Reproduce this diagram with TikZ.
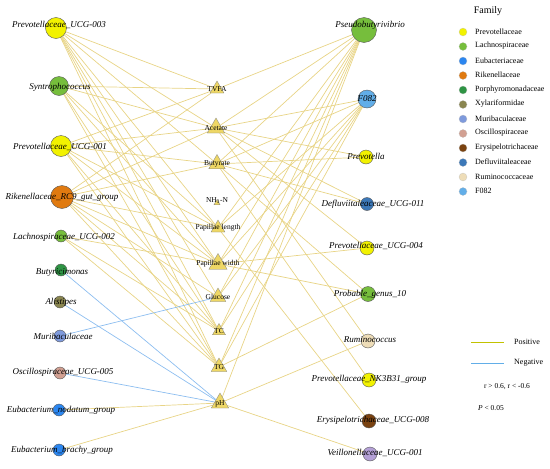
\documentclass[tikz,border=0pt]{standalone}
\usepackage{fontspec}
\setmainfont{Liberation Serif}
\usetikzlibrary{shapes.geometric}
\pgfdeclarelayer{bg}\pgfsetlayers{bg,main}
\definecolor{pos}{HTML}{E8D486}
\definecolor{neg}{HTML}{8DBEF0}
\definecolor{trifill}{HTML}{EED765}
\definecolor{cPrev}{HTML}{F2F200}
\definecolor{cLach}{HTML}{76BE3C}
\definecolor{cEub}{HTML}{2B86F0}
\definecolor{cRik}{HTML}{E07A10}
\definecolor{cPorph}{HTML}{2E9444}
\definecolor{cXyl}{HTML}{8A8650}
\definecolor{cMuri}{HTML}{7E9ADC}
\definecolor{cOsc}{HTML}{D2A092}
\definecolor{cEry}{HTML}{7A4210}
\definecolor{cDef}{HTML}{3C78B8}
\definecolor{cRum}{HTML}{EEDDB8}
\definecolor{cF}{HTML}{62AEE8}
\definecolor{cVei}{HTML}{B4A0D6}
\begin{document}
\begin{tikzpicture}[x=1pt,y=-1pt,
  circ/.style={circle,draw=black!65,line width=0.4pt,inner sep=0pt},
  tri/.style={regular polygon,regular polygon sides=3,draw=black!50,fill=trifill,inner sep=0pt,line width=0.3pt},
  lab/.style={font=\fontsize{9}{10}\selectfont\itshape,inner sep=0pt},
  tlab/.style={font=\fontsize{7.5}{8}\selectfont,inner sep=0pt},
  leg/.style={font=\fontsize{8}{9}\selectfont,inner sep=0pt,anchor=west},
  pe/.style={draw=pos,line width=0.7pt},
  ne/.style={draw=neg,line width=0.7pt}]
\useasboundingbox (0,0) rectangle (550,469);
% left nodes
\node[circ,fill=cPrev,minimum size=21pt] (L1) at (56,28) {};
\node[circ,fill=cLach,minimum size=19pt] (L2) at (59,86) {};
\node[circ,fill=cPrev,minimum size=21pt] (L3) at (61,146) {};
\node[circ,fill=cRik,minimum size=23pt] (L4) at (62,197) {};
\node[circ,fill=cLach,minimum size=12pt] (L5) at (61,236) {};
\node[circ,fill=cPorph,minimum size=12pt] (L6) at (61,270) {};
\node[circ,fill=cXyl,minimum size=12pt] (L7) at (60,302) {};
\node[circ,fill=cMuri,minimum size=12pt] (L8) at (60,336) {};
\node[circ,fill=cOsc,minimum size=12pt] (L9) at (60,373) {};
\node[circ,fill=cEub,minimum size=12pt] (L10) at (59,410) {};
\node[circ,fill=cEub,minimum size=12pt] (L11) at (59,450) {};
\node[lab] (l1) at (59,25) {Prevotellaceae\_UCG-003};
\node[lab] (l2) at (60,87) {Syntrophococcus};
\node[lab] (l3) at (60,147) {Prevotellaceae\_UCG-001};
\node[lab] (l4) at (62,197) {Rikenellaceae\_RC9\_gut\_group};
\node[lab] (l5) at (64,237) {Lachnospiraceae\_UCG-002};
\node[lab] (l6) at (62,272) {Butyricimonas};
\node[lab] (l7) at (61,302) {Alistipes};
\node[lab] (l8) at (63,336) {Muribaculaceae};
\node[lab] (l9) at (63,372) {Oscillospiraceae\_UCG-005};
\node[lab] (l10) at (61,410) {Eubacterium\_nodatum\_group};
\node[lab] (l11) at (62,450) {Eubacterium\_brachy\_group};
% middle triangles
\node[tri,minimum size=16pt] (M1) at (217,89) {};
\node[tri,minimum size=20pt] (M2) at (216,128) {};
\node[tri,minimum size=19pt] (M3) at (217,164) {};
\node[tri,minimum size=7pt] (M4) at (217,203) {};
\node[tri,minimum size=16pt] (M5) at (218,228) {};
\node[tri,minimum size=21pt] (M6) at (218,264) {};
\node[tri,minimum size=18pt] (M7) at (218,297) {};
\node[tri,minimum size=15pt] (M8) at (219,331) {};
\node[tri,minimum size=18pt] (M9) at (219,367) {};
\node[tri,minimum size=20pt] (M10) at (220,403) {};
\node[tlab] (m1) at (217,89) {TVFA};
\node[tlab] (m2) at (216,128) {Acetate};
\node[tlab] (m3) at (217,164) {Butyrate};
\node[tlab] (m4) at (217,201) {NH\textsubscript{3}-N};
\node[tlab] (m5) at (218,228) {Papillae length};
\node[tlab] (m6) at (218,264) {Papillae width};
\node[tlab] (m7) at (218,297) {Glucose};
\node[tlab] (m8) at (219,331) {TC};
\node[tlab] (m9) at (219,367) {TG};
\node[tlab] (m10) at (220,404) {pH};
% right nodes
\node[circ,fill=cLach,minimum size=25pt] (R1) at (364,30) {};
\node[circ,fill=cF,minimum size=18pt] (R2) at (367,99) {};
\node[circ,fill=cPrev,minimum size=14pt] (R3) at (366,157) {};
\node[circ,fill=cDef,minimum size=13pt] (R4) at (367,204) {};
\node[circ,fill=cPrev,minimum size=14pt] (R5) at (367,248) {};
\node[circ,fill=cLach,minimum size=15pt] (R6) at (368,294) {};
\node[circ,fill=cRum,minimum size=14pt] (R7) at (368,341) {};
\node[circ,fill=cPrev,minimum size=14pt] (R8) at (369,380) {};
\node[circ,fill=cEry,minimum size=14pt] (R9) at (369,421) {};
\node[circ,fill=cVei,minimum size=14pt] (R10) at (370,454) {};
\node[lab] (r1) at (370,25) {Pseudobutyrivibrio};
\node[lab] (r2) at (367,99) {F082};
\node[lab] (r3) at (366,156) {Prevotella};
\node[lab] (r4) at (373,204) {Defluviitaleaceae\_UCG-011};
\node[lab] (r5) at (376,246) {Prevotellaceae\_UCG-004};
\node[lab] (r6) at (370,294) {Probable\_genus\_10};
\node[lab] (r7) at (370,340) {Ruminococcus};
\node[lab] (r8) at (369,379) {Prevotellaceae\_NK3B31\_group};
\node[lab] (r9) at (373,420) {Erysipelotrichaceae\_UCG-008};
\node[lab] (r10) at (375,453) {Veillonellaceae\_UCG-001};
% edges
\begin{pgfonlayer}{bg}
\foreach \m in {M1,M2,M3,M5,M6,M7,M8,M9} \draw[pe] (L1) -- (\m);
\foreach \m in {M1,M2,M5,M6,M8,M9} \draw[pe] (L2) -- (\m);
\foreach \m in {M1,M2,M3,M5,M6,M8,M9} \draw[pe] (L3) -- (\m);
\foreach \m in {M1,M2,M3,M5,M6,M7,M8,M9} \draw[pe] (L4) -- (\m);
\foreach \m in {M6,M8,M9} \draw[pe] (L5) -- (\m);
\draw[ne] (L6) -- (M10);
\draw[ne] (L7) -- (M10);
\draw[ne] (L8) -- (M7);
\draw[ne] (L9) -- (M10);
\draw[pe] (L10) -- (M10);
\draw[pe] (L11) -- (M10);
\foreach \m in {M1,M2,M3,M5,M6,M7,M8,M9,M10} \draw[pe] (R1) -- (\m);
\foreach \m in {M2,M3,M5,M6,M7,M8,M9} \draw[pe] (R2) -- (\m);
\foreach \m in {M2,M3} \draw[pe] (R3) -- (\m);
\foreach \m in {M2,M3} \draw[pe] (R4) -- (\m);
\foreach \m in {M2,M6} \draw[pe] (R5) -- (\m);
\foreach \m in {M3,M6,M9} \draw[pe] (R6) -- (\m);
\foreach \m in {M2,M10} \draw[pe] (R7) -- (\m);
\draw[pe] (R8) -- (M3);
\draw[pe] (R9) -- (M5);
\draw[pe] (R10) -- (M10);
\end{pgfonlayer}
% legend
\node[font=\fontsize{10}{12}\selectfont,inner sep=0pt] (fam) at (488,11) {Family};
\foreach \c/\t [count=\i] in {cPrev/Prevotellaceae,cLach/Lachnospiraceae,cEub/Eubacteriaceae,cRik/Rikenellaceae,cPorph/Porphyromonadaceae,cXyl/Xylariformidae,cMuri/Muribaculaceae,cOsc/Oscillospiraceae,cEry/Erysipelotrichaceae,cDef/Defluviitaleaceae,cRum/Ruminococcaceae,cF/F082}{
  \node[circle,fill=\c,draw=black!25,line width=0.2pt,minimum size=8pt,inner sep=0pt] (k\i) at (463,{32+14.5*(\i-1)}) {};
  \node[leg] (kt\i) at (475,{31.5+14.5*(\i-1)}) {\t};
}
\coordinate (pa) at (471,342);
\coordinate (pb) at (504,342);
\coordinate (na) at (471,363);
\coordinate (nb) at (504,363);
\draw[draw=cPrev!80!black,line width=0.9pt] (pa) -- (pb);
\draw[draw=cF,line width=0.9pt] (na) -- (nb);
\node[leg] (pt) at (514,341.5) {Positive};
\node[leg] (nt) at (514,362.5) {Negative};
\node[font=\fontsize{7.5}{8}\selectfont,inner sep=0pt] (rt) at (507,387) {r > 0.6, r < -0.6};
\node[font=\fontsize{7.5}{8}\selectfont,inner sep=0pt] (ptt) at (491,408) {\textit{P} < 0.05};
\end{tikzpicture}
\end{document}
